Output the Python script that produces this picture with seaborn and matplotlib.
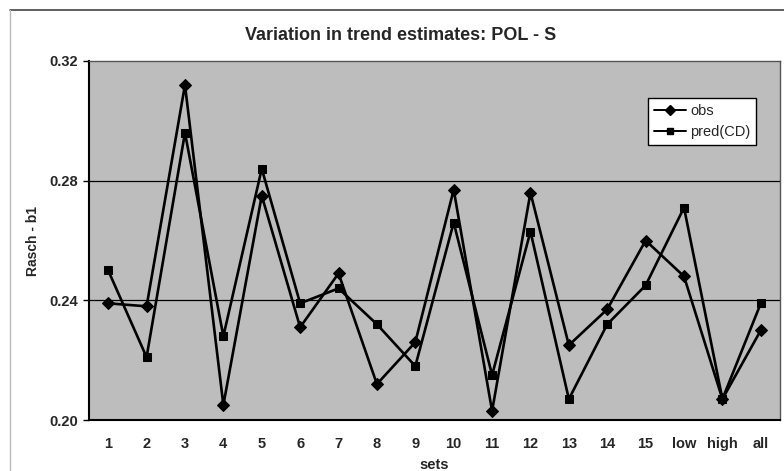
import matplotlib
matplotlib.use("Agg")
import matplotlib.pyplot as plt
import seaborn as sns
import pandas as pd
from matplotlib.lines import Line2D

sets = ["1", "2", "3", "4", "5", "6", "7", "8", "9", "10", "11", "12",
        "13", "14", "15", "low", "high", "all"]
obs = [0.239, 0.238, 0.312, 0.205, 0.275, 0.231, 0.249, 0.212, 0.226,
       0.277, 0.203, 0.276, 0.225, 0.237, 0.260, 0.248, 0.207, 0.230]
pred_cd = [0.250, 0.221, 0.296, 0.228, 0.284, 0.239, 0.244, 0.232, 0.218,
           0.266, 0.215, 0.263, 0.207, 0.232, 0.245, 0.271, 0.207, 0.239]
y_ticks = [0.20, 0.24, 0.28, 0.32]

df = pd.DataFrame({
    "sets": sets * 2,
    "value": obs + pred_cd,
    "series": ["obs"] * len(sets) + ["pred(CD)"] * len(sets),
})

sns.set_theme(style="white")
plt.rcParams["font.family"] = ["Liberation Sans", "DejaVu Sans"]

fig = plt.figure(figsize=(7.84, 4.71), dpi=100)
ax = fig.add_axes([89 / 784, 1 - 420 / 471, (780 - 89) / 784, (420 - 61) / 471])
ax.set_facecolor("#bdbdbd")

sns.lineplot(data=df, x="sets", y="value", hue="series", style="series",
             markers={"obs": "D", "pred(CD)": "s"}, dashes=False,
             palette={"obs": "black", "pred(CD)": "black"},
             markersize=6, linewidth=1.9, sort=False, ax=ax, legend=False,
             markeredgecolor="black")

ax.set_xlim(-0.5, len(sets) - 0.5)
ax.set_ylim(0.20, 0.32)
ax.set_yticks(y_ticks)
ax.set_yticklabels([f"{t:.2f}" for t in y_ticks], fontsize=10.5, fontweight="bold")
for t in y_ticks[1:3]:
    ax.axhline(t, color="black", linewidth=0.9, zorder=0.5)
ax.tick_params(axis="x", length=0, pad=12, labelsize=10.5)
ax.tick_params(axis="y", length=4, width=1, color="black", direction="out", left=True, pad=4)
for lbl in ax.get_xticklabels():
    lbl.set_fontweight("bold")
for s in ["left", "bottom"]:
    ax.spines[s].set_color("black")
    ax.spines[s].set_linewidth(1.5)
for s in ["top", "right"]:
    ax.spines[s].set_color("#555555")
    ax.spines[s].set_linewidth(1.0)

ax.set_xlabel("sets", fontsize=10.5, fontweight="bold", labelpad=5)
ax.set_ylabel("Rasch - b1", fontsize=10, fontweight="bold")
ax.yaxis.set_label_coords(-(89 - 40) / 691, 0.5)
fig.suptitle("Variation in trend estimates: POL - S", x=401 / 784, y=1 - 27 / 471,
             fontsize=13, fontweight="bold")

handles = [
    Line2D([], [], color="black", marker="D", markersize=5, linewidth=1.4, label="obs"),
    Line2D([], [], color="black", marker="s", markersize=5, linewidth=1.4, label="pred(CD)"),
]
leg = ax.legend(handles=handles, loc="upper left",
                bbox_to_anchor=((648 - 89) / 691, 1 - (98 - 61) / 359),
                frameon=True, fancybox=False, framealpha=1, edgecolor="black",
                fontsize=10.5, handlelength=2.2, handletextpad=0.3,
                borderpad=0.4, labelspacing=0.5, borderaxespad=0)
leg.get_frame().set_linewidth(1.0)
leg.get_frame().set_facecolor("white")

fig.add_artist(Line2D([10 / 784, 1], [1 - 10 / 471, 1 - 10 / 471],
                      transform=fig.transFigure, color="#444444", linewidth=1.2))
fig.add_artist(Line2D([10 / 784, 10 / 784], [0, 1 - 10 / 471],
                      transform=fig.transFigure, color="#bbbbbb", linewidth=1.0))

fig.savefig("out.png", dpi=100)
